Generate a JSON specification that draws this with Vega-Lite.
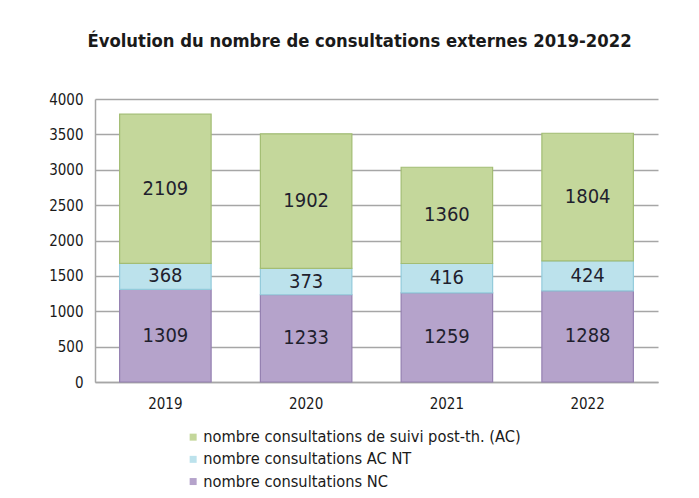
{
  "$schema": "https://vega.github.io/schema/vega-lite/v6.json",
  "width": 563,
  "height": 283,
  "autosize": "none",
  "padding": {"left": 95, "top": 99, "right": 41, "bottom": 116},
  "background": "white",
  "title": {
    "text": "Évolution du nombre de consultations externes 2019-2022",
    "font": "DejaVu Sans Condensed, Liberation Sans, sans-serif",
    "fontSize": 18.3,
    "fontWeight": "bold",
    "color": "#1a1a1a",
    "anchor": "middle",
    "dx": -17,
    "offset": 41
  },
  "data": {
    "values": [
      {"annee": "2019", "serie": "nombre consultations NC", "ordre": 1, "valeur": 1309},
      {"annee": "2019", "serie": "nombre consultations AC NT", "ordre": 2, "valeur": 368},
      {"annee": "2019", "serie": "nombre consultations de suivi post-th. (AC)", "ordre": 3, "valeur": 2109},
      {"annee": "2020", "serie": "nombre consultations NC", "ordre": 1, "valeur": 1233},
      {"annee": "2020", "serie": "nombre consultations AC NT", "ordre": 2, "valeur": 373},
      {"annee": "2020", "serie": "nombre consultations de suivi post-th. (AC)", "ordre": 3, "valeur": 1902},
      {"annee": "2021", "serie": "nombre consultations NC", "ordre": 1, "valeur": 1259},
      {"annee": "2021", "serie": "nombre consultations AC NT", "ordre": 2, "valeur": 416},
      {"annee": "2021", "serie": "nombre consultations de suivi post-th. (AC)", "ordre": 3, "valeur": 1360},
      {"annee": "2022", "serie": "nombre consultations NC", "ordre": 1, "valeur": 1288},
      {"annee": "2022", "serie": "nombre consultations AC NT", "ordre": 2, "valeur": 424},
      {"annee": "2022", "serie": "nombre consultations de suivi post-th. (AC)", "ordre": 3, "valeur": 1804}
    ]
  },
  "transform": [
    {"stack": "valeur", "groupby": ["annee"], "sort": [{"field": "ordre", "order": "ascending"}], "as": ["v0", "v1"]},
    {"calculate": "(datum.v0 + datum.v1) / 2", "as": "milieu"}
  ],
  "encoding": {
    "x": {
      "field": "annee",
      "type": "nominal",
      "scale": {"paddingInner": 0.35, "paddingOuter": 0.175},
      "axis": {
        "title": null,
        "labelAngle": 0,
        "labelFont": "DejaVu Sans Condensed, Liberation Sans, sans-serif",
        "labelFontSize": 15,
        "labelColor": "#1a1a1a",
        "labelPadding": 14,
        "ticks": false,
        "domainColor": "#a6a6a6",
        "domainWidth": 1.5
      }
    }
  },
  "layer": [
    {
      "mark": {"type": "bar", "strokeWidth": 1.2},
      "encoding": {
        "y": {
          "field": "v0",
          "type": "quantitative",
          "scale": {"domain": [0, 4000], "nice": false},
          "axis": {"title": null, "values": [0, 500, 1000, 1500, 2000, 2500, 3000, 3500, 4000]}
        },
        "y2": {"field": "v1"},
        "color": {
          "field": "serie",
          "type": "nominal",
          "scale": {
            "domain": ["nombre consultations de suivi post-th. (AC)", "nombre consultations AC NT", "nombre consultations NC"],
            "range": ["#c4d79b", "#bce2ec", "#b5a3cb"]
          },
          "legend": {
            "title": null,
            "orient": "none",
            "legendX": 90,
            "legendY": 330,
            "direction": "vertical",
            "padding": 0,
            "symbolType": "square",
            "symbolSize": 49,
            "symbolStrokeWidth": 0,
            "labelFont": "DejaVu Sans Condensed, Liberation Sans, sans-serif",
            "labelFontSize": 16.3,
            "labelColor": "#1a1a1a",
            "labelOffset": 2,
            "rowPadding": 5.2,
            "labelLimit": 600
          }
        },
        "stroke": {
          "field": "serie",
          "type": "nominal",
          "scale": {
            "domain": ["nombre consultations de suivi post-th. (AC)", "nombre consultations AC NT", "nombre consultations NC"],
            "range": ["#a3bd74", "#93cbdb", "#9480b0"]
          },
          "legend": null
        }
      }
    },
    {
      "mark": {
        "type": "text",
        "font": "DejaVu Sans Condensed, Liberation Sans, sans-serif",
        "fontSize": 20,
        "color": "#1f1f2e",
        "baseline": "middle",
        "align": "center"
      },
      "encoding": {
        "y": {
          "field": "milieu",
          "type": "quantitative",
          "axis": {"title": null, "values": [0, 500, 1000, 1500, 2000, 2500, 3000, 3500, 4000]}
        },
        "text": {"field": "valeur", "type": "quantitative"}
      }
    }
  ],
  "config": {
    "view": {"stroke": null},
    "axisY": {
      "format": "d",
      "labelOverlap": false,
      "labelFont": "DejaVu Sans Condensed, Liberation Sans, sans-serif",
      "labelFontSize": 15,
      "labelColor": "#1a1a1a",
      "labelPadding": 12,
      "ticks": false,
      "domainColor": "#a6a6a6",
      "domainWidth": 1.5,
      "gridColor": "#a6a6a6",
      "gridWidth": 1.5
    }
  }
}
